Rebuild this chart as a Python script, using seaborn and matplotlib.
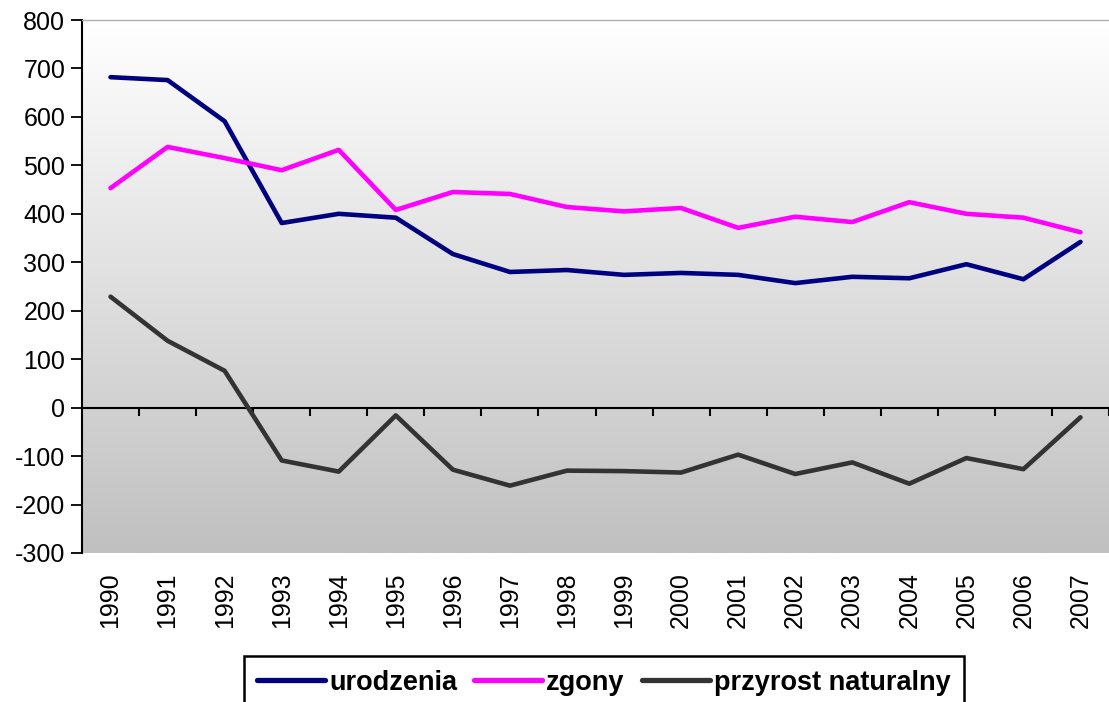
import numpy as np
import pandas as pd
import matplotlib
matplotlib.use("Agg")
import matplotlib.pyplot as plt
import seaborn as sns
from matplotlib.colors import LinearSegmentedColormap

years = list(range(1990, 2008))
urodzenia = [682, 676, 591, 381, 400, 392, 317, 280, 284, 274, 278, 274, 257, 270, 267, 296, 265, 342]
zgony = [453, 538, 515, 490, 532, 408, 445, 441, 414, 405, 412, 371, 394, 383, 424, 400, 392, 362]
przyrost = [229, 138, 76, -109, -132, -16, -128, -161, -130, -131, -134, -97, -137, -113, -157, -104, -127, -20]

series_names = ["urodzenia", "zgony", "przyrost naturalny"]
series_colors = ["#000080", "#FF00FF", "#333333"]
y_ticks = list(range(-300, 801, 100))

df = pd.DataFrame({
    "rok": years * 3,
    "wartosc": urodzenia + zgony + przyrost,
    "seria": [s for s in series_names for _ in years],
})

sns.set_style("white")
plt.rcParams["font.family"] = ["Liberation Sans", "DejaVu Sans"]
plt.rcParams["text.color"] = "black"
plt.rcParams["xtick.color"] = "black"
plt.rcParams["ytick.color"] = "black"

fig = plt.figure(figsize=(11.09, 7.02), dpi=100)
ax = fig.add_axes([82 / 1109, 1 - 553 / 702, 1 - 82 / 1109, (553 - 20) / 702])

# gradient background (white -> grey)
cmap = LinearSegmentedColormap.from_list("bg", ["#ffffff", "#c0c0c0"])
ax.imshow(np.linspace(0, 1, 256).reshape(-1, 1), cmap=cmap, aspect="auto",
          extent=[years[0] - 0.5, years[-1] + 0.5, -300, 800], zorder=0)

sns.lineplot(data=df, x="rok", y="wartosc", hue="seria", hue_order=series_names,
             palette=series_colors, linewidth=3.3, ax=ax, zorder=3)

ax.set_xlim(years[0] - 0.5, years[-1] + 0.5)
ax.set_ylim(-300, 800)

# zero axis with category ticks
ax.axhline(0, color="black", linewidth=1.5, zorder=2)
ax.vlines(np.array(years) + 0.5, -17, 0, color="black", linewidth=1.5, zorder=2)

ax.set_yticks(y_ticks)
ax.set_yticklabels([str(v) for v in y_ticks], fontsize=18, color="black")
ax.set_xticks(years)
ax.set_xticklabels([str(y) for y in years], rotation=90, fontsize=18, color="black")
ax.tick_params(axis="y", direction="out", length=8, width=1.3, color="black", pad=4, left=True)
ax.tick_params(axis="x", length=0, pad=14)
ax.set_xlabel("")
ax.set_ylabel("")

for side in ["bottom", "right"]:
    ax.spines[side].set_visible(False)
ax.spines["left"].set_color("black")
ax.spines["left"].set_linewidth(1.5)
ax.spines["top"].set_color("#b0b0b0")
ax.spines["top"].set_linewidth(1.0)

handles, labels = ax.get_legend_handles_labels()
ax.get_legend().remove()
for h in handles:
    h.set_linewidth(3.8)
leg = fig.legend(handles, labels, loc="upper center", bbox_to_anchor=(604 / 1109, 1 - 656 / 702),
                 borderaxespad=0, ncol=3, frameon=True, fancybox=False, edgecolor="black",
                 framealpha=1, prop={"weight": "bold", "size": 19.5}, handlelength=2.5,
                 handletextpad=0.15, columnspacing=0.65, borderpad=0.5)
leg.get_frame().set_linewidth(1.8)
for t in leg.get_texts():
    t.set_color("black")

plt.savefig("out.png", dpi=100)
plt.close()
